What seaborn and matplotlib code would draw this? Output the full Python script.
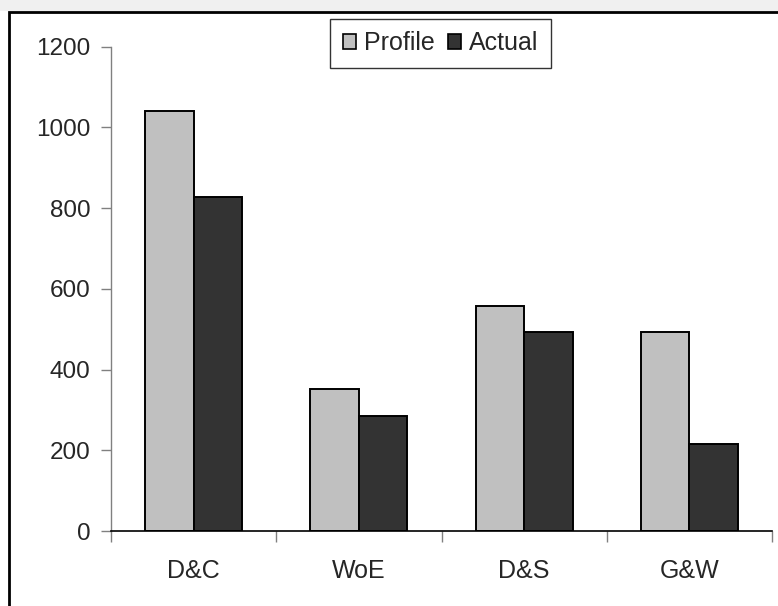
"""Profile vs actual bar chart, Excel-like styling."""

import matplotlib

matplotlib.use("Agg")
import matplotlib.pyplot as plt
import pandas as pd
import seaborn as sns
from matplotlib.patches import Rectangle

CATEGORIES = ["D&C", "WoE", "D&S", "G&W"]
PROFILE = [1041, 353, 557, 493]
ACTUAL = [828, 284, 493, 216]
SERIES = ["Profile", "Actual"]
COLORS = {"Profile": "#C0C0C0", "Actual": "#333333"}
Y_TICKS = [0, 200, 400, 600, 800, 1000, 1200]

df = pd.DataFrame(
    {
        "category": CATEGORIES * 2,
        "value": PROFILE + ACTUAL,
        "series": [SERIES[0]] * len(CATEGORIES) + [SERIES[1]] * len(CATEGORIES),
    }
)

sns.set_theme(style="white")
plt.rcParams["font.family"] = ["Liberation Sans", "DejaVu Sans"]

fig = plt.figure(figsize=(7.78, 6.06), dpi=100)
ax = fig.add_axes([111 / 778, 1 - 531 / 606, 661 / 778, (531 - 46.7) / 606])

sns.barplot(
    data=df,
    x="category",
    y="value",
    hue="series",
    order=CATEGORIES,
    hue_order=SERIES,
    palette=COLORS,
    width=0.587,
    edgecolor="black",
    linewidth=1.4,
    saturation=1,
    ax=ax,
)

ax.set_xlim(-0.5, len(CATEGORIES) - 0.5)
ax.set_ylim(0, 1200)
ax.set_yticks(Y_TICKS)
ax.set_xlabel("")
ax.set_ylabel("")

# category labels at centers, boundary ticks as minor ticks
ax.set_xticks(range(len(CATEGORIES)))
ax.set_xticklabels(CATEGORIES)
ax.set_xticks([i - 0.5 for i in range(len(CATEGORIES) + 1)], minor=True)
ax.tick_params(axis="x", which="major", length=0, pad=20, labelsize=18)
ax.tick_params(axis="x", which="minor", length=8, width=1, color="#808080", direction="out", bottom=True)
ax.tick_params(axis="y", which="major", length=7, width=1, color="#808080", pad=8, labelsize=17.5, left=True)

for side in ("top", "right"):
    ax.spines[side].set_visible(False)
ax.spines["left"].set_color("#808080")
ax.spines["left"].set_linewidth(1)
ax.spines["bottom"].set_color("black")
ax.spines["bottom"].set_linewidth(1.2)

ax.get_legend().remove()
handles = [Rectangle((0, 0), 1, 1, facecolor=COLORS[s], edgecolor="black", linewidth=1.2) for s in SERIES]
leg = fig.legend(
    handles,
    SERIES,
    loc="upper center",
    bbox_to_anchor=(440.5 / 778, 1 - 19 / 606),
    ncol=2,
    fontsize=18,
    frameon=True,
    fancybox=False,
    handlelength=0.52,
    handleheight=0.52,
    handletextpad=0.32,
    columnspacing=0.55,
    borderpad=0.5,
    borderaxespad=0,
)
leg.get_frame().set_edgecolor("black")
leg.get_frame().set_linewidth(1)

# top strip and chart frame
fig.patches.append(Rectangle((0, 1 - 11 / 606), 1, 11 / 606, transform=fig.transFigure,
                             facecolor="#F0F0F0", edgecolor="none", zorder=0))
fig.patches.append(Rectangle((9 / 778, -0.05), 1, 1 - 12.5 / 606 + 0.05, transform=fig.transFigure,
                             facecolor="none", edgecolor="black", linewidth=2, zorder=5))

fig.savefig("out.png", dpi=100)
